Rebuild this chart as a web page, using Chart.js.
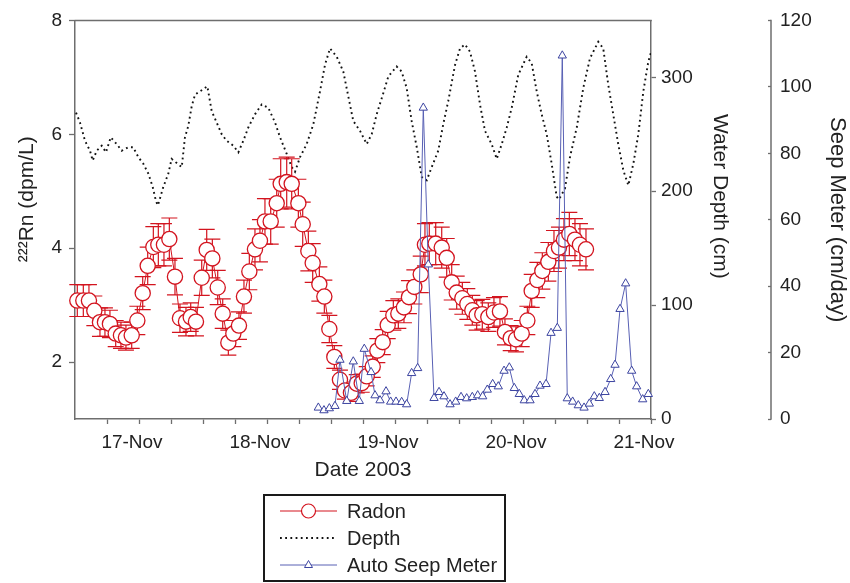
<!DOCTYPE html>
<html>
<head>
<meta charset="utf-8">
<script src="https://cdn.jsdelivr.net/npm/chart.js@4.4.1/dist/chart.umd.min.js"></script>
<style>
html,body{margin:0;padding:0;background:#ffffff;}
#wrap{width:850px;height:583px;}
</style>
</head>
<body>
<div id="wrap"><canvas id="c" width="850" height="583"></canvas></div>
<script>
// ---------------- data (x = day of November 2003) ----------------
const radonDays = [16.518,16.565,16.609,16.651,16.695,16.734,16.773,16.818,16.859,16.898,
  16.943,16.987,17.029,17.068,17.112,17.151,17.195,17.237,17.281,17.320,
  17.367,17.404,17.445,17.490,17.529,17.573,17.615,17.654,17.698,17.737,
  17.781,17.820,17.862,17.906,17.945,17.984,18.029,18.076,18.107,18.154,
  18.193,18.245,18.279,18.323,18.357,18.409,18.448,18.487,18.526,18.570,
  18.609,18.656,18.701,18.740,18.779,18.826,18.862,18.904,18.943,18.987,
  19.026,19.070,19.109,19.151,19.201,19.234,19.268,19.318,19.365,19.404,
  19.443,19.482,19.526,19.565,19.604,19.638,19.682,19.729,19.773,19.820,
  19.859,19.904,19.945,19.990,20.034,20.068,20.112,20.151,20.198,20.242,
  20.281,20.320,20.362,20.406,20.445,20.492];
const radonValues = [3.08,3.08,3.08,2.90,2.70,2.70,2.67,2.50,2.47,2.43,
  2.47,2.73,3.21,3.69,4.02,4.06,4.06,4.16,3.50,2.77,
  2.71,2.79,2.71,3.48,3.97,3.82,3.31,2.85,2.34,2.50,
  2.64,3.15,3.59,3.98,4.13,4.47,4.47,4.79,5.13,5.16,
  5.13,4.79,4.42,3.95,3.74,3.37,3.15,2.58,2.09,1.69,
  1.50,1.46,1.62,1.63,1.75,1.92,2.20,2.35,2.65,2.82,
  2.85,2.96,3.14,3.32,3.54,4.06,4.08,4.08,4.01,3.83,
  3.40,3.22,3.12,3.02,2.91,2.82,2.84,2.79,2.87,2.89,
  2.53,2.42,2.40,2.50,2.73,3.25,3.44,3.60,3.76,3.95,
  4.01,4.15,4.25,4.15,4.06,3.98];
const radonErrors = [0.28,0.28,0.28,0.26,0.25,0.25,0.24,0.23,0.23,0.22,
  0.23,0.25,0.29,0.33,0.36,0.37,0.37,0.37,0.32,0.25,
  0.25,0.25,0.25,0.31,0.36,0.34,0.30,0.26,0.22,0.23,
  0.24,0.29,0.32,0.36,0.37,0.40,0.40,0.42,0.44,0.44,
  0.44,0.42,0.39,0.35,0.34,0.30,0.29,0.24,0.20,0.17,
  0.15,0.15,0.16,0.16,0.17,0.19,0.21,0.22,0.24,0.26,
  0.26,0.27,0.29,0.30,0.32,0.37,0.37,0.37,0.36,0.34,
  0.31,0.29,0.28,0.27,0.26,0.26,0.26,0.25,0.26,0.26,
  0.23,0.22,0.22,0.23,0.25,0.29,0.31,0.32,0.34,0.36,
  0.36,0.37,0.38,0.37,0.37,0.36];

const depthDays = [16.508,16.539,16.578,16.617,16.638,16.670,16.709,16.742,16.779,16.826,
  16.865,16.916,16.955,16.995,17.034,17.073,17.107,17.133,17.148,17.164,
  17.190,17.229,17.255,17.295,17.334,17.359,17.385,17.412,17.438,17.477,
  17.534,17.568,17.607,17.646,17.685,17.737,17.776,17.815,17.854,17.906,
  17.959,18.010,18.063,18.102,18.154,18.193,18.219,18.258,18.310,18.362,
  18.414,18.453,18.492,18.545,18.596,18.635,18.674,18.727,18.779,18.818,
  18.857,18.909,18.948,19.013,19.052,19.091,19.130,19.170,19.209,19.248,
  19.287,19.338,19.377,19.416,19.469,19.508,19.547,19.586,19.625,19.664,
  19.703,19.755,19.795,19.834,19.873,19.912,19.963,20.029,20.068,20.107,
  20.146,20.185,20.224,20.263,20.281,20.328,20.367,20.420,20.471,20.523,
  20.588,20.627,20.666,20.705,20.744,20.784,20.823,20.862,20.901,20.940,
  20.979,21.000];
const depthValues = [269.0,260.3,244.3,235.6,226.9,235.6,240.0,234.2,247.3,241.4,
  235.6,238.6,238.6,229.9,224.1,215.4,203.8,191.1,187.6,193.7,
  203.8,215.4,228.4,224.7,221.2,247.3,257.3,274.7,284.9,287.7,
  292.1,270.4,260.3,250.1,244.3,240.0,234.2,244.3,256.0,267.5,
  276.2,273.3,260.3,247.3,232.8,221.2,217.1,229.9,241.4,258.8,
  287.7,310.9,325.4,318.1,305.1,283.4,261.7,253.0,241.4,250.1,
  267.5,286.3,300.8,309.5,305.1,290.7,261.7,238.6,212.5,209.6,
  221.2,235.6,258.8,279.1,310.9,325.4,328.9,322.5,305.1,276.2,
  253.0,241.4,228.4,241.4,256.0,273.3,302.2,318.1,312.4,287.7,
  267.5,250.1,224.1,195.2,192.8,202.4,229.9,256.0,290.7,316.7,
  331.2,325.4,293.6,267.5,241.4,218.3,205.2,224.1,250.1,287.7,
  313.8,322.0];

const seepDays = [18.401,18.445,18.487,18.531,18.570,18.623,18.674,18.721,18.760,18.813,
  18.844,18.883,18.930,18.966,19.008,19.052,19.091,19.130,19.177,19.221,
  19.260,19.305,19.344,19.383,19.430,19.474,19.516,19.560,19.604,19.646,
  19.685,19.721,19.763,19.807,19.852,19.893,19.932,19.971,20.010,20.055,
  20.094,20.133,20.180,20.219,20.268,20.307,20.346,20.388,20.432,20.477,
  20.518,20.557,20.596,20.641,20.685,20.719,20.758,20.802,20.849,20.888,
  20.935,20.979];
const seepValues = [3.4,2.6,3.2,3.9,17.8,5.4,17.3,5.4,21.1,14.1,
  7.1,5.6,8.3,5.2,5.2,5.1,4.4,13.8,15.3,93.7,
  46.5,6.3,8.1,6.8,4.4,5.2,6.6,6.2,6.6,7.1,
  6.8,8.8,10.5,9.8,14.5,15.5,9.3,7.5,5.6,5.6,
  7.5,10.0,10.5,25.9,27.4,109.4,6.2,5.2,4.1,3.4,
  4.6,6.8,6.3,8.1,12.0,16.3,33.1,40.8,14.5,9.8,
  5.9,7.5];

const xTickDays = [16.75,17,17.25,17.5,17.75,18,18.25,18.5,18.75,19,19.25,19.5,19.75,20,20.25,20.5,20.75,21];
const xLabelDays = [17,18,19,20,21];
const xLabels = ['17-Nov','18-Nov','19-Nov','20-Nov','21-Nov'];
const radonTicks = [2,4,6,8];
const depthTicks = [0,100,200,300];
const seepTicks = [0,20,40,60,80,100,120];
const seriesNames = ['Radon','Depth','Auto Seep Meter'];

// ---------------- styles ----------------
const FONT = "'Liberation Sans', Arial, Helvetica, sans-serif";
const radonColor = '#d3141f';
const seepLine = '#5860b4';
const seepMark = '#3c44a0';
const axisColor = '#6e6e6e';
const textColor = '#222222';

Chart.defaults.font.family = FONT;
Chart.defaults.color = textColor;

function setTicks(list){ return function(scale){ scale.ticks = list.map(v => ({value: v})); }; }

const decor = {
  id: 'decor',
  beforeDatasetDraw(chart, args) {
    if (args.index !== 1) return;
    const ctx = chart.ctx, xs = chart.scales.x, ys = chart.scales.yRn;
    const cap = 8;
    ctx.save();
    ctx.strokeStyle = radonColor;
    ctx.lineWidth = 1.2;
    radonDays.forEach((d, i) => {
      const px = xs.getPixelForValue(d);
      const t = ys.getPixelForValue(radonValues[i] + radonErrors[i]);
      const b = ys.getPixelForValue(radonValues[i] - radonErrors[i]);
      ctx.beginPath();
      ctx.moveTo(px, t); ctx.lineTo(px, b);
      ctx.moveTo(px - cap, t); ctx.lineTo(px + cap, t);
      ctx.moveTo(px - cap, b); ctx.lineTo(px + cap, b);
      ctx.stroke();
    });
    ctx.restore();
  },
  afterDraw(chart) {
    const ctx = chart.ctx, ca = chart.chartArea;
    ctx.save();
    // top frame line
    ctx.strokeStyle = axisColor; ctx.lineWidth = 1.5;
    ctx.beginPath(); ctx.moveTo(ca.left - 0.75, ca.top); ctx.lineTo(ca.right + 0.75, ca.top); ctx.stroke();
    // seep axis line (ticks sit on its left)
    const s = chart.scales.ySeep;
    const sx = s.left + 3;
    ctx.beginPath(); ctx.moveTo(sx, s.top - 0.75); ctx.lineTo(sx, s.bottom + 0.75); ctx.stroke();

    // legend
    const lx = 264, ly = 495, lw = 241, lh = 86;
    ctx.strokeStyle = '#1a1a1a'; ctx.lineWidth = 2;
    ctx.strokeRect(lx, ly, lw, lh);
    const rows = [511, 538, 565];
    const x0 = 280, x1 = 337, xm = 308.5;
    // Radon
    ctx.strokeStyle = radonColor; ctx.lineWidth = 1.2;
    ctx.beginPath(); ctx.moveTo(x0, rows[0]); ctx.lineTo(x1, rows[0]); ctx.stroke();
    ctx.fillStyle = '#fff';
    ctx.beginPath(); ctx.arc(xm, rows[0], 7, 0, Math.PI * 2); ctx.fill(); ctx.stroke();
    // Depth
    ctx.strokeStyle = '#111'; ctx.lineWidth = 1.9; ctx.setLineDash([1.8, 3.4]);
    ctx.beginPath(); ctx.moveTo(x0, rows[1]); ctx.lineTo(x1, rows[1]); ctx.stroke();
    ctx.setLineDash([]);
    // Seep
    ctx.strokeStyle = seepLine; ctx.lineWidth = 1;
    ctx.beginPath(); ctx.moveTo(x0, rows[2]); ctx.lineTo(x1, rows[2]); ctx.stroke();
    ctx.strokeStyle = seepMark; ctx.fillStyle = '#fff';
    ctx.beginPath(); ctx.moveTo(xm, rows[2] - 4.5); ctx.lineTo(xm + 4, rows[2] + 2.5); ctx.lineTo(xm - 4, rows[2] + 2.5); ctx.closePath(); ctx.fill(); ctx.stroke();
    // labels
    ctx.fillStyle = textColor; ctx.font = '20px ' + FONT; ctx.textBaseline = 'middle'; ctx.textAlign = 'left';
    seriesNames.forEach((n, i) => ctx.fillText(n, 347, rows[i] + 1));
    ctx.restore();
  }
};

const tickFont = {size: 19};
const titleFont = {size: 21};

new Chart(document.getElementById('c'), {
  type: 'line',
  data: {
    datasets: [
      {
        label: seriesNames[1], yAxisID: 'yDepth', order: 3,
        data: depthDays.map((d, i) => ({x: d, y: depthValues[i]})),
        borderColor: '#111', borderWidth: 1.9, borderDash: [1.8, 3.4], borderCapStyle: 'butt',
        pointRadius: 0, tension: 0, fill: false
      },
      {
        label: seriesNames[0], yAxisID: 'yRn', order: 2, clip: false,
        data: radonDays.map((d, i) => ({x: d, y: radonValues[i]})),
        borderColor: radonColor, borderWidth: 1, tension: 0, fill: false,
        pointStyle: 'circle', pointRadius: 7.6, pointBorderWidth: 1.3,
        pointBorderColor: radonColor, pointBackgroundColor: '#ffffff'
      },
      {
        label: seriesNames[2], yAxisID: 'ySeep', order: 1, clip: false,
        data: seepDays.map((d, i) => ({x: d, y: seepValues[i]})),
        borderColor: seepLine, borderWidth: 1, tension: 0, fill: false,
        pointStyle: 'triangle', pointRadius: 4.8, pointBorderWidth: 1,
        pointBorderColor: seepMark, pointBackgroundColor: '#ffffff'
      }
    ]
  },
  options: {
    responsive: false,
    devicePixelRatio: 1,
    animation: false,
    events: [],
    layout: {padding: {top: 15, bottom: 100, left: 0, right: 0}},
    plugins: {legend: {display: false}, tooltip: {enabled: false}},
    scales: {
      x: {
        type: 'linear', position: 'bottom', min: 16.5, max: 21,
        afterBuildTicks: setTicks(xTickDays),
        afterFit(s) { s.height = 64; },
        grid: {drawOnChartArea: false, drawTicks: true, tickLength: 5, color: axisColor, tickWidth: 1.3},
        border: {display: true, color: axisColor, width: 1.5},
        ticks: {
          autoSkip: false, maxRotation: 0, minRotation: 0, padding: 7, labelOffset: -7,
          font: tickFont, color: textColor,
          callback: (v) => { const i = xLabelDays.indexOf(v); return i >= 0 ? xLabels[i] : ''; }
        },
        title: {display: true, text: 'Date 2003', font: titleFont, color: textColor, padding: {top: 0, bottom: 0}}
      },
      yRn: {
        type: 'linear', position: 'left', min: 1, max: 8,
        afterBuildTicks: setTicks(radonTicks),
        afterFit(s) { s.width = 75; },
        grid: {drawOnChartArea: false, drawTicks: true, tickLength: 6, color: axisColor, tickWidth: 1.3},
        border: {display: true, color: axisColor, width: 1.5},
        ticks: {font: tickFont, color: textColor, padding: 7},
        title: {display: true, text: '       \u00B2\u00B2\u00B2Rn (dpm/L)', font: titleFont, color: textColor, padding: {top: 15, bottom: 0}}
      },
      yDepth: {
        type: 'linear', position: 'right', min: 0, max: 350, weight: 0,
        afterBuildTicks: setTicks(depthTicks),
        afterFit(s) { s.width = 117; },
        grid: {drawOnChartArea: false, drawTicks: true, tickLength: 5, color: axisColor, tickWidth: 1.3},
        border: {display: true, color: axisColor, width: 1.5},
        ticks: {font: tickFont, color: textColor, padding: 5},
        title: {display: true, text: 'Water Depth (cm)        ', font: titleFont, color: textColor, padding: {top: 36, bottom: 0}}
      },
      ySeep: {
        type: 'linear', position: 'right', min: 0, max: 120, weight: 1,
        afterBuildTicks: setTicks(seepTicks),
        afterFit(s) { s.width = 82; },
        grid: {drawOnChartArea: false, drawTicks: true, tickLength: 3, color: axisColor, tickWidth: 1.3},
        border: {display: false},
        ticks: {font: tickFont, color: textColor, padding: 9},
        title: {display: true, text: 'Seep Meter (cm/day)', font: {size: 22}, color: textColor, padding: {top: 0, bottom: 0}}
      }
    }
  },
  plugins: [decor]
});
</script>
</body>
</html>
